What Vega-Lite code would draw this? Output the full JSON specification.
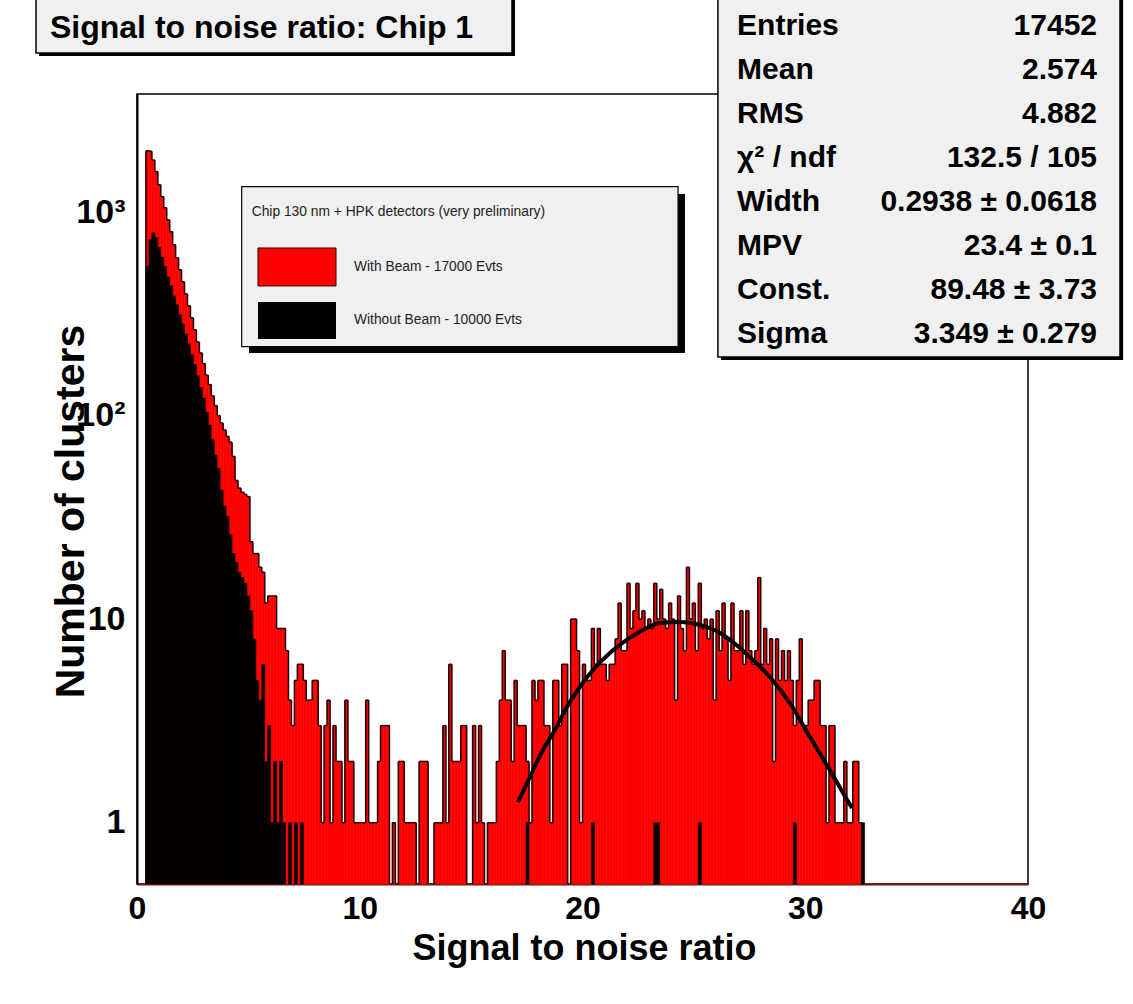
{
  "$schema": "https://vega.github.io/schema/vega-lite/v6.json",
  "width": 891,
  "height": 790,
  "autosize": {"type": "none"},
  "padding": {"left": 137, "top": 94, "right": 105, "bottom": 120},
  "background": "white",
  "config": {
    "view": {"stroke": "#000", "strokeWidth": 1.5},
    "font": "Liberation Sans"
  },
  "datasets": {
    "hist": [
      {"lo":0.4,"hi":0.5333,"r":2000,"b":540},{"lo":0.5333,"hi":0.6667,"r":1990,"b":730},{"lo":0.6667,"hi":0.8,"r":1800,"b":790},
      {"lo":0.8,"hi":0.9333,"r":1580,"b":750},{"lo":0.9333,"hi":1.0667,"r":1360,"b":670},{"lo":1.0667,"hi":1.2,"r":1190,"b":600},
      {"lo":1.2,"hi":1.3333,"r":1050,"b":540},{"lo":1.3333,"hi":1.4667,"r":915,"b":480},{"lo":1.4667,"hi":1.6,"r":800,"b":434},
      {"lo":1.6,"hi":1.7333,"r":690,"b":387},{"lo":1.7333,"hi":1.8667,"r":596,"b":350},{"lo":1.8667,"hi":2.0,"r":520,"b":313},
      {"lo":2.0,"hi":2.1333,"r":454,"b":282},{"lo":2.1333,"hi":2.2667,"r":396,"b":252},{"lo":2.2667,"hi":2.4,"r":346,"b":225},
      {"lo":2.4,"hi":2.5333,"r":302,"b":199},{"lo":2.5333,"hi":2.6667,"r":264,"b":178},{"lo":2.6667,"hi":2.8,"r":230,"b":157},
      {"lo":2.8,"hi":2.9333,"r":203,"b":137},{"lo":2.9333,"hi":3.0667,"r":180,"b":122},{"lo":3.0667,"hi":3.2,"r":158,"b":104},
      {"lo":3.2,"hi":3.3333,"r":142,"b":90},{"lo":3.3333,"hi":3.4667,"r":125,"b":76},{"lo":3.4667,"hi":3.6,"r":112,"b":64},
      {"lo":3.6,"hi":3.7333,"r":100,"b":55},{"lo":3.7333,"hi":3.8667,"r":92,"b":43},{"lo":3.8667,"hi":4.0,"r":85,"b":36},
      {"lo":4.0,"hi":4.1333,"r":79,"b":32},{"lo":4.1333,"hi":4.2667,"r":74,"b":26},{"lo":4.2667,"hi":4.4,"r":63,"b":21},
      {"lo":4.4,"hi":4.5333,"r":48,"b":19},{"lo":4.5333,"hi":4.6667,"r":44,"b":17},{"lo":4.6667,"hi":4.8,"r":42,"b":16},
      {"lo":4.8,"hi":4.9333,"r":41,"b":15},{"lo":4.9333,"hi":5.0667,"r":40,"b":13},{"lo":5.0667,"hi":5.2,"r":24,"b":11},
      {"lo":5.2,"hi":5.3333,"r":21,"b":8},{"lo":5.3333,"hi":5.4667,"r":21,"b":5},{"lo":5.4667,"hi":5.6,"r":18,"b":4},
      {"lo":5.6,"hi":5.7333,"r":17,"b":6},{"lo":5.7333,"hi":5.8667,"r":12,"b":2},{"lo":5.8667,"hi":6.0,"r":13,"b":3},
      {"lo":6.0,"hi":6.1333,"r":13,"b":1},{"lo":6.1333,"hi":6.2667,"r":13,"b":2},{"lo":6.2667,"hi":6.4,"r":9,"b":1},
      {"lo":6.4,"hi":6.5333,"r":9,"b":2},{"lo":6.5333,"hi":6.6667,"r":9,"b":1},{"lo":6.6667,"hi":6.8,"r":7,"b":0},
      {"lo":6.8,"hi":6.9333,"r":4,"b":1},{"lo":6.9333,"hi":7.0667,"r":3,"b":0},{"lo":7.0667,"hi":7.2,"r":5,"b":1},
      {"lo":7.2,"hi":7.3333,"r":6,"b":0},{"lo":7.3333,"hi":7.4667,"r":6,"b":1},{"lo":7.4667,"hi":7.6,"r":5,"b":0},
      {"lo":7.6,"hi":7.7333,"r":4,"b":0},{"lo":7.7333,"hi":7.8667,"r":4,"b":0},{"lo":7.8667,"hi":8.0,"r":5,"b":0},
      {"lo":8.0,"hi":8.1333,"r":5,"b":0},{"lo":8.1333,"hi":8.2667,"r":3,"b":0},{"lo":8.2667,"hi":8.4,"r":1,"b":0},
      {"lo":8.4,"hi":8.5333,"r":3,"b":0},{"lo":8.5333,"hi":8.6667,"r":4,"b":0},{"lo":8.6667,"hi":8.8,"r":1,"b":0},
      {"lo":8.8,"hi":8.9333,"r":3,"b":0},{"lo":8.9333,"hi":9.0667,"r":2,"b":0},{"lo":9.0667,"hi":9.2,"r":2,"b":0},
      {"lo":9.2,"hi":9.3333,"r":1,"b":0},{"lo":9.3333,"hi":9.4667,"r":4,"b":0},{"lo":9.4667,"hi":9.6,"r":2,"b":0},
      {"lo":9.6,"hi":9.7333,"r":2,"b":0},{"lo":9.7333,"hi":9.8667,"r":1,"b":0},{"lo":9.8667,"hi":10.0,"r":1,"b":0},
      {"lo":10.0,"hi":10.1333,"r":1,"b":0},{"lo":10.1333,"hi":10.2667,"r":1,"b":0},{"lo":10.2667,"hi":10.4,"r":4,"b":0},
      {"lo":10.4,"hi":10.5333,"r":1,"b":0},{"lo":10.5333,"hi":10.6667,"r":1,"b":0},{"lo":10.6667,"hi":10.8,"r":1,"b":0},
      {"lo":10.8,"hi":10.9333,"r":2,"b":0},{"lo":10.9333,"hi":11.0667,"r":3,"b":0},{"lo":11.0667,"hi":11.2,"r":3,"b":0},
      {"lo":11.2,"hi":11.3333,"r":3,"b":0},{"lo":11.3333,"hi":11.4667,"r":0,"b":0},{"lo":11.4667,"hi":11.6,"r":1,"b":0},
      {"lo":11.6,"hi":11.7333,"r":0,"b":0},{"lo":11.7333,"hi":11.8667,"r":2,"b":0},{"lo":11.8667,"hi":12.0,"r":2,"b":0},
      {"lo":12.0,"hi":12.1333,"r":1,"b":0},{"lo":12.1333,"hi":12.2667,"r":1,"b":0},{"lo":12.2667,"hi":12.4,"r":1,"b":0},
      {"lo":12.4,"hi":12.5333,"r":1,"b":0},{"lo":12.5333,"hi":12.6667,"r":0,"b":0},{"lo":12.6667,"hi":12.8,"r":2,"b":0},
      {"lo":12.8,"hi":12.9333,"r":2,"b":0},{"lo":12.9333,"hi":13.0667,"r":2,"b":0},{"lo":13.0667,"hi":13.2,"r":0,"b":0},
      {"lo":13.2,"hi":13.3333,"r":0,"b":0},{"lo":13.3333,"hi":13.4667,"r":1,"b":0},{"lo":13.4667,"hi":13.6,"r":1,"b":0},
      {"lo":13.6,"hi":13.7333,"r":1,"b":0},{"lo":13.7333,"hi":13.8667,"r":3,"b":0},{"lo":13.8667,"hi":14.0,"r":1,"b":0},
      {"lo":14.0,"hi":14.1333,"r":6,"b":0},{"lo":14.1333,"hi":14.2667,"r":2,"b":0},{"lo":14.2667,"hi":14.4,"r":2,"b":0},
      {"lo":14.4,"hi":14.5333,"r":2,"b":0},{"lo":14.5333,"hi":14.6667,"r":3,"b":0},{"lo":14.6667,"hi":14.8,"r":3,"b":0},
      {"lo":14.8,"hi":14.9333,"r":0,"b":0},{"lo":14.9333,"hi":15.0667,"r":0,"b":0},{"lo":15.0667,"hi":15.2,"r":3,"b":0},
      {"lo":15.2,"hi":15.3333,"r":1,"b":0},{"lo":15.3333,"hi":15.4667,"r":3,"b":0},{"lo":15.4667,"hi":15.6,"r":1,"b":0},
      {"lo":15.6,"hi":15.7333,"r":0,"b":0},{"lo":15.7333,"hi":15.8667,"r":1,"b":0},{"lo":15.8667,"hi":16.0,"r":1,"b":0},
      {"lo":16.0,"hi":16.1333,"r":1,"b":0},{"lo":16.1333,"hi":16.2667,"r":2,"b":0},{"lo":16.2667,"hi":16.4,"r":4,"b":0},
      {"lo":16.4,"hi":16.5333,"r":7,"b":0},{"lo":16.5333,"hi":16.6667,"r":4,"b":0},{"lo":16.6667,"hi":16.8,"r":4,"b":0},
      {"lo":16.8,"hi":16.9333,"r":2,"b":0},{"lo":16.9333,"hi":17.0667,"r":5,"b":0},{"lo":17.0667,"hi":17.2,"r":3,"b":0},
      {"lo":17.2,"hi":17.3333,"r":3,"b":0},{"lo":17.3333,"hi":17.4667,"r":3,"b":0},{"lo":17.4667,"hi":17.6,"r":2,"b":1},
      {"lo":17.6,"hi":17.7333,"r":1,"b":0},{"lo":17.7333,"hi":17.8667,"r":5,"b":0},{"lo":17.8667,"hi":18.0,"r":4,"b":0},
      {"lo":18.0,"hi":18.1333,"r":5,"b":0},{"lo":18.1333,"hi":18.2667,"r":5,"b":0},{"lo":18.2667,"hi":18.4,"r":3,"b":0},
      {"lo":18.4,"hi":18.5333,"r":3,"b":0},{"lo":18.5333,"hi":18.6667,"r":1,"b":0},{"lo":18.6667,"hi":18.8,"r":5,"b":0},
      {"lo":18.8,"hi":18.9333,"r":5,"b":0},{"lo":18.9333,"hi":19.0667,"r":3,"b":0},{"lo":19.0667,"hi":19.2,"r":6,"b":0},
      {"lo":19.2,"hi":19.3333,"r":6,"b":0},{"lo":19.3333,"hi":19.4667,"r":0,"b":0},{"lo":19.4667,"hi":19.6,"r":10,"b":0},
      {"lo":19.6,"hi":19.7333,"r":10,"b":0},{"lo":19.7333,"hi":19.8667,"r":7,"b":0},{"lo":19.8667,"hi":20.0,"r":1,"b":0},
      {"lo":20.0,"hi":20.1333,"r":6,"b":0},{"lo":20.1333,"hi":20.2667,"r":5,"b":0},{"lo":20.2667,"hi":20.4,"r":5,"b":0},
      {"lo":20.4,"hi":20.5333,"r":9,"b":1},{"lo":20.5333,"hi":20.6667,"r":6,"b":0},{"lo":20.6667,"hi":20.8,"r":9,"b":0},
      {"lo":20.8,"hi":20.9333,"r":6,"b":0},{"lo":20.9333,"hi":21.0667,"r":6,"b":0},{"lo":21.0667,"hi":21.2,"r":5,"b":0},
      {"lo":21.2,"hi":21.3333,"r":6,"b":0},{"lo":21.3333,"hi":21.4667,"r":6,"b":0},{"lo":21.4667,"hi":21.6,"r":8,"b":0},
      {"lo":21.6,"hi":21.7333,"r":12,"b":0},{"lo":21.7333,"hi":21.8667,"r":7,"b":0},{"lo":21.8667,"hi":22.0,"r":7,"b":0},
      {"lo":22.0,"hi":22.1333,"r":15,"b":0},{"lo":22.1333,"hi":22.2667,"r":9,"b":0},{"lo":22.2667,"hi":22.4,"r":11,"b":0},
      {"lo":22.4,"hi":22.5333,"r":15,"b":0},{"lo":22.5333,"hi":22.6667,"r":10,"b":0},{"lo":22.6667,"hi":22.8,"r":11,"b":0},
      {"lo":22.8,"hi":22.9333,"r":9,"b":0},{"lo":22.9333,"hi":23.0667,"r":10,"b":0},{"lo":23.0667,"hi":23.2,"r":9,"b":0},
      {"lo":23.2,"hi":23.3333,"r":15,"b":1},{"lo":23.3333,"hi":23.4667,"r":10,"b":1},{"lo":23.4667,"hi":23.6,"r":14,"b":0},
      {"lo":23.6,"hi":23.7333,"r":10,"b":0},{"lo":23.7333,"hi":23.8667,"r":9,"b":0},{"lo":23.8667,"hi":24.0,"r":12,"b":0},
      {"lo":24.0,"hi":24.1333,"r":10,"b":0},{"lo":24.1333,"hi":24.2667,"r":4,"b":0},{"lo":24.2667,"hi":24.4,"r":13,"b":0},
      {"lo":24.4,"hi":24.5333,"r":9,"b":0},{"lo":24.5333,"hi":24.6667,"r":7,"b":0},{"lo":24.6667,"hi":24.8,"r":18,"b":0},
      {"lo":24.8,"hi":24.9333,"r":10,"b":0},{"lo":24.9333,"hi":25.0667,"r":12,"b":0},{"lo":25.0667,"hi":25.2,"r":7,"b":0},
      {"lo":25.2,"hi":25.3333,"r":15,"b":1},{"lo":25.3333,"hi":25.4667,"r":9,"b":0},{"lo":25.4667,"hi":25.6,"r":10,"b":0},
      {"lo":25.6,"hi":25.7333,"r":8,"b":0},{"lo":25.7333,"hi":25.8667,"r":10,"b":0},{"lo":25.8667,"hi":26.0,"r":4,"b":0},
      {"lo":26.0,"hi":26.1333,"r":11,"b":0},{"lo":26.1333,"hi":26.2667,"r":7,"b":0},{"lo":26.2667,"hi":26.4,"r":12,"b":0},
      {"lo":26.4,"hi":26.5333,"r":8,"b":0},{"lo":26.5333,"hi":26.6667,"r":5,"b":0},{"lo":26.6667,"hi":26.8,"r":12,"b":0},
      {"lo":26.8,"hi":26.9333,"r":7,"b":0},{"lo":26.9333,"hi":27.0667,"r":7,"b":0},{"lo":27.0667,"hi":27.2,"r":11,"b":0},
      {"lo":27.2,"hi":27.3333,"r":6,"b":0},{"lo":27.3333,"hi":27.4667,"r":11,"b":0},{"lo":27.4667,"hi":27.6,"r":7,"b":0},
      {"lo":27.6,"hi":27.7333,"r":6,"b":0},{"lo":27.7333,"hi":27.8667,"r":7,"b":0},{"lo":27.8667,"hi":28.0,"r":16,"b":0},
      {"lo":28.0,"hi":28.1333,"r":6,"b":0},{"lo":28.1333,"hi":28.2667,"r":9,"b":0},{"lo":28.2667,"hi":28.4,"r":6,"b":0},
      {"lo":28.4,"hi":28.5333,"r":8,"b":0},{"lo":28.5333,"hi":28.6667,"r":2,"b":0},{"lo":28.6667,"hi":28.8,"r":8,"b":0},
      {"lo":28.8,"hi":28.9333,"r":5,"b":0},{"lo":28.9333,"hi":29.0667,"r":7,"b":0},{"lo":29.0667,"hi":29.2,"r":5,"b":0},
      {"lo":29.2,"hi":29.3333,"r":7,"b":0},{"lo":29.3333,"hi":29.4667,"r":5,"b":0},{"lo":29.4667,"hi":29.6,"r":3,"b":1},
      {"lo":29.6,"hi":29.7333,"r":5,"b":0},{"lo":29.7333,"hi":29.8667,"r":8,"b":0},{"lo":29.8667,"hi":30.0,"r":3,"b":0},
      {"lo":30.0,"hi":30.1333,"r":3,"b":0},{"lo":30.1333,"hi":30.2667,"r":4,"b":0},{"lo":30.2667,"hi":30.4,"r":4,"b":0},
      {"lo":30.4,"hi":30.5333,"r":5,"b":0},{"lo":30.5333,"hi":30.6667,"r":5,"b":0},{"lo":30.6667,"hi":30.8,"r":3,"b":0},
      {"lo":30.8,"hi":30.9333,"r":3,"b":0},{"lo":30.9333,"hi":31.0667,"r":1,"b":0},{"lo":31.0667,"hi":31.2,"r":3,"b":0},
      {"lo":31.2,"hi":31.3333,"r":3,"b":0},{"lo":31.3333,"hi":31.4667,"r":1,"b":0},{"lo":31.4667,"hi":31.6,"r":1,"b":0},
      {"lo":31.6,"hi":31.7333,"r":1,"b":0},{"lo":31.7333,"hi":31.8667,"r":2,"b":0},{"lo":31.8667,"hi":32.0,"r":1,"b":0},
      {"lo":32.0,"hi":32.1333,"r":1,"b":0},{"lo":32.1333,"hi":32.2667,"r":2,"b":0},{"lo":32.2667,"hi":32.4,"r":2,"b":0},
      {"lo":32.4,"hi":32.5333,"r":1,"b":0},{"lo":32.5333,"hi":32.6667,"r":0,"b":1}
    ],
    "fit": [
      {"x":17.1,"y":1.264},{"x":17.64,"y":1.677},{"x":18.22,"y":2.277},{"x":18.76,"y":2.855},{"x":19.3,"y":3.703},
      {"x":19.88,"y":4.643},{"x":20.47,"y":5.627},{"x":21.23,"y":6.823},{"x":21.99,"y":7.904},{"x":22.71,"y":8.849},
      {"x":23.47,"y":9.579},{"x":24.37,"y":9.69},{"x":25.27,"y":9.366},{"x":26.17,"y":8.555},{"x":27.07,"y":7.22},
      {"x":27.51,"y":6.521},{"x":28.41,"y":5.2},{"x":29.31,"y":3.874},{"x":30.21,"y":2.637},{"x":31.1,"y":1.817},
      {"x":31.87,"y":1.3},{"x":32.1,"y":1.18}
    ]
  },
  "layer": [
    {
      "data": {"name": "hist"},
      "transform": [{"filter": "datum.r > 0"}],
      "mark": {"type": "rect", "fill": "#ff0000", "stroke": "#ff0000", "strokeWidth": 0.6},
      "encoding": {
        "x": {
          "field": "lo", "type": "quantitative",
          "scale": {"domain": [0, 40], "nice": false, "zero": false},
          "axis": {
            "values": [0,1,2,3,4,5,6,7,8,9,10,11,12,13,14,15,16,17,18,19,20,21,22,23,24,25,26,27,28,29,30,31,32,33,34,35,36,37,38,39,40],
            "labelExpr": "datum.value % 5 === 0 ? datum.label : ''",
            "labelOverlap": false, "labelFlush": false,
            "labelFont": "Liberation Sans", "labelFontSize": 32, "labelFontWeight": "bold", "labelColor": "#000",
            "labelPadding": 9,
            "ticks": true, "tickSize": 0, "tickColor": "#3a0a05", "tickWidth": 1.5,
            "domainColor": "#6b1a10", "domainWidth": 2,
            "grid": false,
            "title": "Signal to noise ratio",
            "titleFont": "Liberation Sans", "titleFontSize": 36, "titleFontWeight": "bold", "titleColor": "#000",
            "titleX": 447, "titleY": 64, "titleAlign": "center", "titleBaseline": "middle",
            "encode": {"ticks": {"update": {"y2": {"signal": "datum.value % 5 === 0 ? -24 : -12"}}}}
          }
        },
        "x2": {"field": "hi"},
        "y": {
          "field": "r", "type": "quantitative",
          "scale": {"type": "log", "domain": [0.5, 3800], "nice": false},
          "axis": {
            "values": [0.6,0.7,0.8,0.9,1,2,3,4,5,6,7,8,9,10,20,30,40,50,60,70,80,90,100,200,300,400,500,600,700,800,900,1000,2000,3000],
            "labelExpr": "datum.value === 1 ? '1' : datum.value === 10 ? '10' : datum.value === 100 ? '10²' : datum.value === 1000 ? '10³' : ''",
            "labelOverlap": false, "labelFlush": false,
            "labelFont": "Liberation Sans", "labelFontSize": 34, "labelFontWeight": "bold", "labelColor": "#000",
            "labelPadding": 12,
            "ticks": true, "tickSize": 0, "tickColor": "#000", "tickWidth": 1.5,
            "domainColor": "#000", "domainWidth": 2,
            "grid": false,
            "title": "Number of clusters",
            "titleFont": "Liberation Sans", "titleFontSize": 41, "titleFontWeight": "bold", "titleColor": "#000",
            "titleX": -66, "titleY": 417, "titleAngle": -90, "titleAlign": "center", "titleBaseline": "middle",
            "encode": {"ticks": {"update": {"x2": {"signal": "(datum.value === 1 || datum.value === 10 || datum.value === 100 || datum.value === 1000) ? 14 : 8"}}}}
          }
        },
        "y2": {"datum": 0.5}
      }
    },
    {
      "data": {"name": "hist"},
      "transform": [{"filter": "datum.r > 0"}],
      "mark": {"type": "rule", "color": "#1a0000", "strokeWidth": 1.5},
      "encoding": {
        "x": {"field": "lo", "type": "quantitative"},
        "x2": {"field": "hi"},
        "y": {"field": "r", "type": "quantitative"}
      }
    },
    {
      "data": {"name": "hist"},
      "transform": [
        {"window": [{"op": "lag", "field": "r", "as": "rp"}], "sort": [{"field": "lo"}]},
        {"filter": "datum.r > 0 && datum.rp > 0 && datum.rp != datum.r"}
      ],
      "mark": {"type": "rule", "color": "#1a0000", "strokeWidth": 1.5},
      "encoding": {
        "x": {"field": "lo", "type": "quantitative"},
        "y": {"field": "r", "type": "quantitative"},
        "y2": {"field": "rp"}
      }
    },
    {
      "data": {"name": "hist"},
      "transform": [
        {"window": [{"op": "lag", "field": "r", "as": "rp"}], "sort": [{"field": "lo"}]},
        {"filter": "datum.r > 0 && !(datum.rp > 0)"}
      ],
      "mark": {"type": "rule", "color": "#1a0000", "strokeWidth": 1.5},
      "encoding": {
        "x": {"field": "lo", "type": "quantitative"},
        "y": {"field": "r", "type": "quantitative"},
        "y2": {"datum": 0.5}
      }
    },
    {
      "data": {"name": "hist"},
      "transform": [
        {"window": [{"op": "lead", "field": "r", "as": "rn"}], "sort": [{"field": "lo"}]},
        {"filter": "datum.r > 0 && !(datum.rn > 0)"}
      ],
      "mark": {"type": "rule", "color": "#1a0000", "strokeWidth": 1.5},
      "encoding": {
        "x": {"field": "hi", "type": "quantitative"},
        "y": {"field": "r", "type": "quantitative"},
        "y2": {"datum": 0.5}
      }
    },
    {
      "data": {"name": "hist"},
      "transform": [{"filter": "datum.b > 0"}],
      "mark": {"type": "rect", "fill": "#000000", "stroke": "#000000", "strokeWidth": 0.6},
      "encoding": {
        "x": {"field": "lo", "type": "quantitative"},
        "x2": {"field": "hi"},
        "y": {"field": "b", "type": "quantitative"},
        "y2": {"datum": 0.5}
      }
    },
    {
      "data": {"name": "fit"},
      "mark": {"type": "line", "color": "#000000", "strokeWidth": 4, "interpolate": "monotone"},
      "encoding": {
        "x": {"field": "x", "type": "quantitative"},
        "y": {"field": "y", "type": "quantitative"}
      }
    },
    {
      "data": {"values": [{}]},
      "layer": [
        {"mark": {"type": "rect", "color": "#000"},
         "encoding": {"x": {"datum": 5.028}, "x2": {"datum": 24.6}, "y": {"datum": 1226.5}, "y2": {"datum": 203.0}}},
        {"mark": {"type": "rect", "fill": "#f0f0f0", "stroke": "#000", "strokeWidth": 1.2},
         "encoding": {"x": {"datum": 4.7}, "x2": {"datum": 24.29}, "y": {"datum": 1331.6}, "y2": {"datum": 218.0}}},
        {"mark": {"type": "rect", "fill": "#ff0000", "stroke": "#300000", "strokeWidth": 1},
         "encoding": {"x": {"datum": 5.432}, "x2": {"datum": 8.934}, "y": {"datum": 665.9}, "y2": {"datum": 433.2}}},
        {"mark": {"type": "rect", "fill": "#000000"},
         "encoding": {"x": {"datum": 5.432}, "x2": {"datum": 8.934}, "y": {"datum": 361.4}, "y2": {"datum": 237.9}}},
        {"mark": {"type": "text", "text": "Chip 130 nm + HPK detectors (very  preliminary)", "align": "left", "baseline": "middle", "fontSize": 13.8, "color": "#222", "font": "Liberation Sans"},
         "encoding": {"x": {"datum": 5.149}, "y": {"datum": 1000}}},
        {"mark": {"type": "text", "text": "With Beam - 17000 Evts", "align": "left", "baseline": "middle", "fontSize": 13.8, "color": "#222", "font": "Liberation Sans"},
         "encoding": {"x": {"datum": 9.742}, "y": {"datum": 537.0}}},
        {"mark": {"type": "text", "text": "Without Beam - 10000 Evts", "align": "left", "baseline": "middle", "fontSize": 13.8, "color": "#222", "font": "Liberation Sans"},
         "encoding": {"x": {"datum": 9.742}, "y": {"datum": 294.9}}}
      ]
    },
    {
      "data": {"values": [{}]},
      "layer": [
        {"mark": {"type": "rect", "color": "#000"},
         "encoding": {"x": {"datum": 26.22}, "x2": {"datum": 44.27}, "y": {"datum": 11005}, "y2": {"datum": 187.6}}},
        {"mark": {"type": "rect", "fill": "#f0f0f0", "stroke": "#000", "strokeWidth": 1.5},
         "encoding": {"x": {"datum": 26.08}, "x2": {"datum": 44.13}, "y": {"datum": 11386}, "y2": {"datum": 194.1}}},
        {"mark": {"type": "text", "text": ["Entries", "Mean", "RMS", "χ² / ndf", "Width", "MPV", "Const.", "Sigma"], "lineHeight": 44, "align": "left", "baseline": "alphabetic", "fontSize": 30, "fontWeight": "bold", "color": "#000", "font": "Liberation Sans"},
         "encoding": {"x": {"datum": 26.94}, "y": {"datum": 7406}}},
        {"mark": {"type": "text", "text": ["17452", "2.574", "4.882", "132.5 / 105", "0.2938 ± 0.0618", "23.4 ± 0.1", "89.48 ± 3.73", "3.349 ± 0.279"], "lineHeight": 44, "align": "right", "baseline": "alphabetic", "fontSize": 30, "fontWeight": "bold", "color": "#000", "font": "Liberation Sans"},
         "encoding": {"x": {"datum": 43.1}, "y": {"datum": 7406}}}
      ]
    },
    {
      "data": {"values": [{}]},
      "layer": [
        {"mark": {"type": "rect", "color": "#000"},
         "encoding": {"x": {"datum": -4.4}, "x2": {"datum": 16.97}, "y": {"datum": 11005}, "y2": {"datum": 5842}}},
        {"mark": {"type": "rect", "fill": "#f0f0f0", "stroke": "#000", "strokeWidth": 1.5},
         "encoding": {"x": {"datum": -4.534}, "x2": {"datum": 16.835}, "y": {"datum": 11386}, "y2": {"datum": 6042}}},
        {"mark": {"type": "text", "text": "Signal to noise ratio: Chip 1", "align": "left", "baseline": "middle", "fontSize": 32, "fontWeight": "bold", "color": "#000", "font": "Liberation Sans"},
         "encoding": {"x": {"datum": -3.906}, "y": {"datum": 8017}}}
      ]
    }
  ]
}
